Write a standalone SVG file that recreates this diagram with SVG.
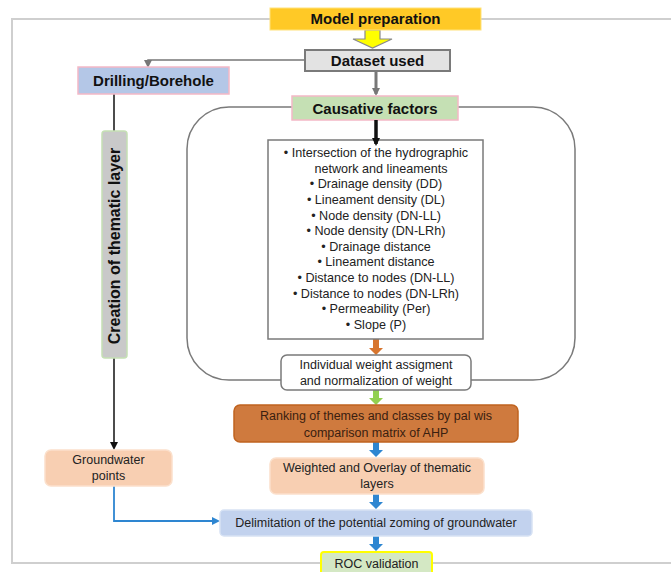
<svg xmlns="http://www.w3.org/2000/svg" width="671" height="572" viewBox="0 0 671 572">
<style>
.h{font-family:"Liberation Sans",Arial,sans-serif;font-weight:bold;font-size:15px;fill:#111;text-anchor:middle}
.t{font-family:"Liberation Sans",Arial,sans-serif;font-size:12.5px;fill:#222;text-anchor:middle}
.t2{font-family:"Liberation Sans",Arial,sans-serif;font-size:12.6px;fill:#222;text-anchor:middle}
</style>
<defs>
<marker id="ag" markerWidth="8" markerHeight="8" refX="6" refY="4" orient="auto" markerUnits="userSpaceOnUse"><path d="M0,0 L8,4 L0,8 z" fill="#777"/></marker>
<marker id="ak" markerWidth="8" markerHeight="8" refX="6" refY="4" orient="auto" markerUnits="userSpaceOnUse"><path d="M0,0 L8,4 L0,8 z" fill="#111"/></marker>
<marker id="ab" markerWidth="8" markerHeight="8" refX="6" refY="4" orient="auto" markerUnits="userSpaceOnUse"><path d="M0,0 L8,4 L0,8 z" fill="#2E86D1"/></marker>
</defs>
<rect width="671" height="572" fill="#fff"/>
<rect x="12" y="19" width="680" height="544" fill="none" stroke="#cfcfcf" stroke-width="2"/>
<rect x="187" y="107" width="388" height="273" rx="42" fill="none" stroke="#7a7a7a" stroke-width="1.5"/>

<g id="connectors">
<polygon points="365,30 380,30 380,39 392,39 372.5,48 353,39 365,39" fill="#ffff00" stroke="#8a8a8a" stroke-width="1.2"/>
<polyline points="305,60 148,60 148,66" fill="none" stroke="#777" stroke-width="1.5" marker-end="url(#ag)"/>
<line x1="376" y1="72" x2="376" y2="94" stroke="#777" stroke-width="3" marker-end="url(#ag)"/>
<polygon points="373,339 379,339 379,348 383,348 376,355 369,348 373,348" fill="#D7752E"/>
<polygon points="373,390 379,390 379,398 383,398 376,405 369,398 373,398" fill="#92D050"/>
<polygon points="373,442 379,442 379,450 383,450 376,457 369,450 373,450" fill="#2E86D1"/>
<polygon points="373,494 379,494 379,502 383,502 376,509 369,502 373,502" fill="#2E86D1"/>
<polygon points="373,536 379,536 379,544 383,544 376,551 369,544 373,544" fill="#2E86D1"/>
<line x1="114" y1="94" x2="114" y2="131" stroke="#111" stroke-width="1.5"/>
<line x1="114" y1="358" x2="114" y2="448" stroke="#111" stroke-width="1.5" marker-end="url(#ak)"/>
<polyline points="114,486 114,521 218,521" fill="none" stroke="#2E86D1" stroke-width="1.8" marker-end="url(#ab)"/>
</g>

<g id="model-preparation">
<rect x="270" y="8" width="211" height="22" fill="#FFC926" stroke="#FFE27A" stroke-width="1"/>
<text class="h" x="375.5" y="24">Model preparation</text>
</g>
<g id="dataset-used">
<rect x="305" y="50" width="145" height="21" fill="#E3E3E3" stroke="#7a7a7a" stroke-width="2"/>
<text class="h" x="377.5" y="66">Dataset used</text>
</g>
<g id="drilling">
<rect x="78" y="67" width="151" height="27" fill="#B4C7E7" stroke="#F4B8C6" stroke-width="1.5"/>
<text class="h" x="153.5" y="86">Drilling/Borehole</text>
</g>
<g id="causative-factors">
<rect x="292" y="96" width="166" height="24" fill="#C5E0B4" stroke="#F4B8C6" stroke-width="1.5"/>
<text class="h" x="375" y="114">Causative factors</text>
</g>
<g id="creation">
<rect x="102" y="131" width="25" height="227" rx="3" fill="#C9C9C9" stroke="#C5E0B4" stroke-width="1.5"/>
<text class="h" x="0" y="0" transform="translate(120,246) rotate(-90)" style="font-size:16px">Creation of thematic layer</text>
</g>
<g id="factors-list">
<rect x="268" y="140" width="215" height="199" fill="#fff" stroke="#7a7a7a" stroke-width="1.5"/>
<line x1="376" y1="120" x2="376" y2="144" stroke="#111" stroke-width="3.5" marker-end="url(#ak)"/>
<text class="t2" x="376" y="157">• Intersection of the hydrographic</text>
<text class="t2" x="381" y="173">network and lineaments</text>
<text class="t2" x="376" y="188">• Drainage density (DD)</text>
<text class="t2" x="376" y="204">• Lineament density (DL)</text>
<text class="t2" x="376" y="220">• Node density (DN-LL)</text>
<text class="t2" x="376" y="235">• Node density (DN-LRh)</text>
<text class="t2" x="376" y="251">• Drainage distance</text>
<text class="t2" x="376" y="266">• Lineament distance</text>
<text class="t2" x="376" y="282">• Distance to nodes (DN-LL)</text>
<text class="t2" x="376" y="298">• Distance to nodes (DN-LRh)</text>
<text class="t2" x="376" y="313">• Permeability (Per)</text>
<text class="t2" x="376" y="329">• Slope (P)</text>
</g>
<g id="individual-weight">
<rect x="281" y="355" width="190" height="35" rx="6" fill="#fff" stroke="#7a7a7a" stroke-width="1.5"/>
<text class="t" x="376" y="369">Individual weight assigment</text>
<text class="t" x="376" y="385">and normalization of weight</text>
</g>
<g id="ranking">
<rect x="234" y="405" width="284" height="37" rx="6" fill="#CF7A3E" stroke="#C0631F" stroke-width="1.5"/>
<text class="t" x="376" y="420" style="fill:#3a2010">Ranking of themes and classes by pal wis</text>
<text class="t" x="376" y="437" style="fill:#3a2010">comparison matrix of AHP</text>
</g>
<g id="weighted-overlay">
<rect x="270" y="458" width="214" height="36" rx="6" fill="#F8CFB2" stroke="#FBE0CC" stroke-width="1.5"/>
<text class="t" x="377" y="472">Weighted and Overlay of thematic</text>
<text class="t" x="377" y="488">layers</text>
</g>
<g id="groundwater-points">
<rect x="45" y="450" width="127" height="36" rx="6" fill="#F8CFB2" stroke="#FBE0CC" stroke-width="1.5"/>
<text class="t" x="108.5" y="464">Groundwater</text>
<text class="t" x="108.5" y="480">points</text>
</g>
<g id="delimitation">
<rect x="220" y="510" width="312" height="26" rx="4" fill="#C2D2EE" stroke="#D7E2F4" stroke-width="1.5"/>
<text class="t" x="376" y="527">Delimitation of the potential zoming of groundwater</text>
</g>
<g id="roc-validation">
<rect x="321" y="552" width="111" height="24" rx="3" fill="#D4E8C4" stroke="#FFFF00" stroke-width="2"/>
<text class="t" x="376.5" y="568">ROC validation</text>
</g>
</svg>
